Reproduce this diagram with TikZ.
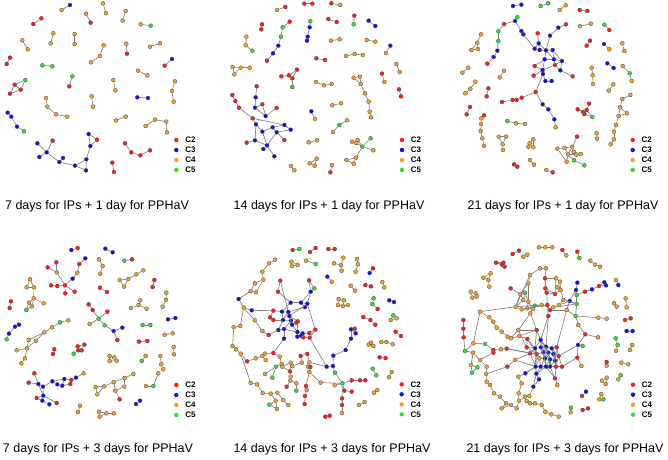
\documentclass[tikz,border=0pt]{standalone}
\usepackage{fontspec}
\setmainfont{Liberation Sans}
\usepackage{xcolor}
\definecolor{k2}{HTML}{FF1A1A}
\definecolor{k3}{HTML}{1010E0}
\definecolor{k4}{HTML}{F0A02A}
\definecolor{k5}{HTML}{2EE02E}
\usetikzlibrary{positioning}

\tikzset{
  vtx/.style={circle, draw=black!70, line width=0.3pt, inner sep=0pt, minimum size=4pt},
  link/.style={draw=black!50, line width=0.65pt},
  keydot/.style={circle, inner sep=0pt, minimum size=4.4pt},
  keytext/.style={font=\bfseries\fontsize{8}{9}\selectfont},
  caption/.style={font=\fontsize{12.5}{15}\selectfont, anchor=base},
  panel/.style={x=0.3333pt, y=-0.3333pt}
}

% n/x/y/class, coordinates in thirds of a pixel of the panel
\newcommand{\netnodes}[1]{\foreach \n/\x/\y/\c in {#1} {\node[vtx, fill=k\c] (\n) at (\x,\y) {};}}
\newcommand{\netlinks}[1]{\foreach \u/\v in {#1} {\draw[link] (\u) -- (\v);}}
\newcommand{\netkey}[2]{\foreach \k [count=\i from 0] in {2,3,4,5} {%
  \node[keydot, fill=k\k] (key\k) at (#1,{#2+30*\i}) {};
  \node[keytext, right=3pt of key\k] (keylabel\k) {C\k};}}

\begin{document}
\begin{tikzpicture}[x=1pt, y=-1pt]
\useasboundingbox (0,0) rectangle (668,459);

% 7 days + 1 day
\begin{scope}[panel, name prefix=a-]
\netnodes{1/185/30/4, 2/210/15/3, 3/100/72/2, 4/124/55/2, 5/258/41/4, 6/272/68/2, 7/309/10/4, 8/318/39/4,
  9/377/33/4, 10/368/62/4, 11/422/73/4, 12/452/77/5, 13/160/100/4, 14/152/130/4, 15/224/102/4, 16/224/132/4,
  17/67/121/4, 18/83/148/4, 19/311/136/4, 20/300/168/4, 21/273/187/4, 22/379/131/4, 23/381/161/2, 24/450/140/4,
  25/480/130/4, 26/30/173/2, 27/20/192/2, 28/516/177/3, 29/494/197/2, 30/127/196/5, 31/157/199/5, 32/414/212/4,
  33/442/226/4, 34/217/229/5, 35/208/259/2, 36/44/254/2, 37/76/240/5, 38/62/269/2, 39/30/281/2, 40/340/240/4,
  41/346/271/4, 42/525/244/4, 43/516/273/4, 44/521/305/4, 45/275/289/4, 46/279/320/4, 47/412/292/3, 48/444/294/3,
  49/138/294/4, 50/142/320/4, 51/168/343/4, 52/202/350/4, 53/23/338/3, 54/34/350/3, 55/51/380/3, 56/72/394/5,
  57/348/361/4, 58/377/350/4, 59/437/378/4, 60/465/359/4, 61/499/365/4, 62/501/397/4, 63/266/402/3, 64/291/419/2,
  65/271/438/3, 66/259/478/3, 67/258/511/3, 68/225/497/3, 69/178/486/3, 70/189/474/3, 71/140/457/3, 72/112/430/3,
  73/158/422/2, 74/118/471/3, 75/375/430/2, 76/394/457/2, 77/421/466/2, 78/450/451/2, 79/337/488/2, 80/342/516/2}
\netlinks{1/2, 3/4, 5/6, 7/8, 9/10, 11/12, 13/14, 15/16, 17/18, 19/20, 20/21, 22/23, 24/25, 26/27, 28/29, 30/31,
  32/33, 34/35, 36/37, 36/38, 37/38, 36/39, 38/39, 40/41, 42/43, 43/44, 45/46, 47/48, 49/50, 50/51, 51/52, 53/54,
  54/55, 55/56, 57/58, 59/60, 60/61, 61/62, 63/64, 63/65, 64/65, 65/66, 66/67, 66/68, 68/67, 68/69, 69/70, 69/71,
  71/72, 71/73, 71/74, 75/76, 76/77, 77/78, 79/80}
\netkey{529}{420}
\end{scope}

% 14 days + 1 day
\begin{scope}[shift={(222pt,0pt)}, panel, name prefix=b-]
\netnodes{1/165/30/4, 2/190/21/2, 3/247/11/2, 4/271/11/2, 5/328/10/2, 6/355/15/4, 7/120/73/2, 8/118/88/2,
  9/182/82/5, 10/203/65/2, 11/177/110/5, 12/169/137/3, 13/153/160/3, 14/135/182/2, 15/265/64/5, 16/263/82/3,
  17/257/110/3, 18/255/122/3, 19/319/57/2, 20/344/66/2, 21/397/47/2, 22/395/73/5, 23/440/62/3, 24/460/78/3,
  25/73/110/4, 26/71/136/4, 27/91/152/5, 28/327/122/4, 29/353/118/4, 30/434/120/4, 31/460/125/4, 32/505/137/3,
  33/492/159/4, 34/283/175/2, 35/309/180/2, 36/372/168/4, 37/398/162/4, 38/423/165/4, 39/32/201/4, 40/56/203/4,
  41/83/203/4, 42/37/223/4, 43/523/192/4, 44/533/216/4, 45/178/229/2, 46/201/226/2, 47/225/209/2, 48/211/235/2,
  49/211/261/5, 50/282/246/4, 51/306/256/4, 52/329/252/4, 53/395/233/4, 54/414/230/4, 55/416/252/4, 56/429/280/4,
  57/440/305/4, 58/443/335/4, 59/447/352/4, 60/480/221/2, 61/487/246/4, 62/531/268/2, 63/537/289/2, 64/104/259/2,
  65/101/292/3, 66/31/285/2, 67/40/303/2, 68/51/323/2, 69/99/323/3, 70/121/313/2, 71/92/355/2, 72/131/348/3,
  73/164/324/2, 74/102/373/3, 75/121/395/3, 76/152/382/3, 77/164/397/3, 78/187/375/3, 79/206/389/3, 80/187/420/2,
  81/74/428/2, 82/99/421/3, 83/135/436/3, 84/124/447/3, 85/157/469/3, 86/268/334/3, 87/279/357/4, 88/357/310/4,
  89/331/316/4, 90/375/361/4, 91/352/375/5, 92/333/396/4, 93/260/427/4, 94/285/421/4, 95/390/425/4, 96/407/420/4,
  97/446/415/5, 98/421/440/5, 99/403/429/4, 100/454/451/4, 101/402/473/4, 102/373/480/4, 103/395/491/4,
  104/284/476/4, 105/263/490/4, 106/278/497/4, 107/207/498/4, 108/217/511/4, 109/330/495/4, 110/325/517/2}
\netlinks{1/2, 3/4, 5/6, 7/8, 10/9, 9/11, 11/12, 12/13, 13/14, 15/16, 16/17, 17/18, 19/20, 21/22, 23/24, 25/26,
  26/27, 28/29, 30/31, 32/33, 34/35, 36/37, 37/38, 39/40, 40/41, 39/42, 40/42, 43/44, 45/46, 46/47, 46/48, 47/48,
  48/49, 50/51, 51/52, 53/54, 53/55, 54/55, 55/56, 56/57, 57/58, 58/59, 60/61, 62/63, 64/65, 65/69, 69/70, 69/72,
  70/72, 72/73, 66/67, 67/68, 68/71, 71/78, 71/74, 74/75, 74/82, 75/76, 76/77, 76/78, 77/79, 78/79, 77/80, 82/81,
  82/83, 83/84, 83/85, 75/83, 77/83, 86/87, 88/89, 90/91, 91/92, 93/94, 95/96, 96/98, 99/98, 97/98, 98/100,
  98/101, 101/102, 101/103, 102/103, 104/105, 104/106, 105/106, 107/108, 109/110}
\netkey{540}{420}
\end{scope}

% 21 days + 1 day
\begin{scope}[shift={(444pt,0pt)}, panel, name prefix=c-]
\netnodes{1/207/18/3, 2/232/14/3, 3/290/18/5, 4/312/10/5, 5/347/30/4, 6/365/16/4, 7/407/30/2, 8/430/33/2,
  9/220/52/5, 10/213/63/3, 11/180/72/2, 12/163/94/5, 13/163/123/5, 14/160/152/3, 15/149/171/3, 16/130/191/2,
  17/232/93/3, 18/238/103/3, 19/281/100/2, 20/318/107/3, 21/343/83/3, 22/366/73/2, 23/284/130/3, 24/272/146/3,
  25/287/150/3, 26/306/151/3, 27/326/150/3, 28/302/178/3, 29/330/178/3, 30/354/183/3, 31/272/198/2, 32/296/210/3,
  33/333/195/2, 34/349/211/3, 35/269/227/2, 36/297/222/3, 37/304/243/3, 38/323/243/3, 39/386/229/2, 40/275/276/2,
  41/174/306/2, 42/206/300/2, 43/218/300/2, 44/233/293/2, 45/296/313/3, 46/313/328/3, 47/331/358/3, 48/335/382/4,
  49/111/103/4, 50/100/128/4, 51/82/150/4, 52/102/147/4, 53/73/203/4, 54/55/218/4, 55/180/212/4, 56/167/232/4,
  57/94/245/4, 58/79/266/4, 59/64/280/4, 60/133/265/2, 61/128/289/2, 62/78/321/2, 63/68/343/2, 64/120/346/2,
  65/112/355/4, 66/111/372/4, 67/110/393/4, 68/115/415/4, 69/120/438/4, 70/190/363/5, 71/216/370/4, 72/243/372/4,
  73/164/410/4, 74/186/410/4, 75/176/433/4, 76/177/450/4, 77/257/430/4, 78/268/418/4, 79/253/440/4, 80/268/442/4,
  81/210/493/2, 82/220/500/2, 83/258/480/4, 84/270/494/4, 85/307/510/4, 86/326/517/2, 87/408/79/4, 88/440/71/4,
  89/438/122/2, 90/428/137/2, 91/481/74/5, 92/496/90/2, 93/480/132/3, 94/496/148/4, 95/535/130/4, 96/541/153/4,
  97/490/190/3, 98/509/204/3, 99/443/203/4, 100/446/226/4, 101/447/252/4, 102/536/198/4, 103/557/220/5,
  104/563/243/4, 105/508/253/4, 106/494/272/4, 107/559/285/4, 108/535/297/4, 109/528/322/4, 110/549/340/4,
  111/524/348/4, 112/516/375/4, 113/510/395/4, 114/510/418/4, 115/500/433/4, 116/458/400/4, 117/459/416/4,
  118/435/311/2, 119/401/328/2, 120/417/336/2, 121/428/330/2, 122/421/342/2, 123/445/351/5, 124/399/410/2,
  125/385/440/4, 126/362/444/4, 127/340/446/4, 128/372/463/4, 129/397/464/4, 130/410/462/4, 131/368/485/4,
  132/390/481/5, 133/421/496/5, 134/389/456/4}
\netlinks{1/2, 3/4, 5/6, 7/8, 9/10, 10/11, 11/12, 12/13, 13/14, 14/15, 15/16, 10/17, 17/18, 18/24, 19/23, 20/21,
  21/22, 20/26, 23/24, 23/25, 24/25, 25/26, 26/27, 26/28, 27/29, 27/30, 28/29, 29/30, 28/31, 28/32, 29/33, 30/34,
  33/34, 31/32, 32/35, 32/36, 36/37, 37/38, 34/39, 32/33, 26/29, 30/33, 23/26, 36/40, 40/44, 41/42, 42/43, 43/44,
  40/45, 45/46, 46/47, 47/48, 49/50, 50/51, 50/52, 51/52, 53/54, 55/56, 57/58, 58/59, 60/61, 62/63, 64/65, 65/66,
  66/67, 67/68, 68/69, 70/71, 71/72, 73/74, 73/75, 74/75, 75/76, 77/78, 77/79, 78/80, 79/80, 77/80, 81/82, 83/84,
  85/86, 87/88, 89/90, 91/92, 93/94, 95/96, 97/98, 99/100, 100/101, 102/103, 103/104, 105/106, 107/108, 108/109,
  109/110, 109/111, 110/111, 111/112, 112/113, 113/114, 114/115, 116/117, 118/121, 119/120, 120/121, 121/122,
  122/120, 121/123, 122/123, 124/125, 125/126, 126/127, 125/128, 128/129, 129/130, 128/131, 126/128, 125/134,
  134/130, 128/132, 132/133, 127/131}
\netkey{566}{420}
\end{scope}

% 7 days + 3 days
\begin{scope}[shift={(0pt,-230pt)}, panel, name prefix=d-]
\netnodes{1/214/60/3, 2/233/54/2, 3/316/56/3, 4/338/67/3, 5/373/92/5, 6/396/88/2, 7/169/97/2, 8/143/112/2,
  9/170/127/4, 10/238/102/2, 11/256/85/3, 12/232/128/4, 13/218/146/3, 14/195/166/2, 15/153/166/2, 16/172/168/2,
  17/196/190/2, 18/224/185/2, 19/297/88/4, 20/308/108/4, 21/301/131/4, 22/430/121/4, 23/409/133/4, 24/385/147/4,
  25/359/150/4, 26/372/170/4, 27/463/150/2, 28/458/171/2, 29/300/173/2, 30/321/186/2, 31/90/148/4, 32/80/172/4,
  33/102/172/4, 34/101/205/4, 35/87/218/4, 36/96/229/4, 37/131/220/4, 38/79/240/5, 39/33/214/2, 40/29/234/2,
  41/499/188/4, 42/498/209/4, 43/488/230/4, 44/266/223/2, 45/278/240/2, 46/322/245/2, 47/296/266/5, 48/269/282/4,
  49/314/286/5, 50/341/303/3, 51/367/293/3, 52/352/330/2, 53/393/234/4, 54/421/211/4, 55/416/225/4, 56/440/236/4,
  57/504/268/3, 58/526/264/3, 59/57/284/3, 60/45/290/3, 61/27/311/3, 62/20/328/5, 63/205/271/4, 64/180/277/5,
  65/156/292/4, 66/133/307/4, 67/108/332/4, 68/86/330/4, 69/81/355/4, 70/50/361/4, 71/75/385/4, 72/64/400/4,
  73/428/285/5, 74/451/285/5, 75/494/314/4, 76/518/310/4, 77/417/335/2, 78/442/333/2, 79/163/358/2, 80/159/372/2,
  81/233/349/2, 82/253/344/2, 83/235/361/2, 84/245/361/2, 85/221/371/5, 86/521/351/4, 87/522/373/4, 88/329/378/4,
  89/343/382/4, 90/329/393/4, 91/350/392/4, 92/437/378/4, 93/425/393/5, 94/481/378/4, 95/484/403/4, 96/490/418/4,
  97/103/430/2, 98/86/458/2, 99/115/462/3, 100/129/470/3, 101/157/454/3, 102/172/463/3, 103/187/467/3,
  104/193/447/3, 105/211/462/2, 106/214/450/2, 107/228/443/3, 108/251/430/4, 109/130/497/3, 110/110/504/2,
  111/127/512/3, 112/148/523/3, 113/170/519/2, 114/400/432/4, 115/374/444/4, 116/341/456/4, 117/313/469/4,
  118/287/471/4, 119/292/493/4, 120/346/482/4, 121/373/470/4, 122/359/508/2, 123/475/430/4, 124/460/468/5,
  125/438/468/4, 126/420/512/3, 127/408/522/3, 128/240/527/4, 129/234/546/4, 130/297/545/4, 131/319/550/4,
  132/342/550/4, 133/299/560/4}
\netlinks{1/2, 3/4, 5/6, 7/9, 8/9, 9/14, 11/10, 10/12, 12/13, 13/14, 15/16, 16/14, 14/17, 14/18, 19/20, 20/21,
  22/23, 23/24, 24/25, 24/26, 25/26, 27/28, 29/30, 31/32, 31/33, 32/33, 33/34, 34/35, 34/36, 35/36, 34/37, 35/38,
  36/38, 39/40, 41/42, 42/43, 44/45, 45/47, 46/47, 47/48, 47/49, 49/50, 50/51, 50/52, 54/55, 55/53, 55/56, 57/58,
  59/60, 60/61, 61/62, 63/64, 64/65, 65/66, 66/67, 66/68, 68/69, 67/69, 69/70, 69/71, 71/72, 73/74, 75/76, 77/78,
  79/80, 81/82, 81/83, 82/84, 83/84, 83/85, 86/87, 88/89, 88/90, 89/91, 90/91, 92/93, 94/95, 95/96, 97/99, 98/99,
  99/100, 100/101, 101/102, 102/103, 101/104, 103/104, 104/106, 103/105, 105/106, 106/107, 107/108, 100/109,
  109/110, 109/111, 110/111, 111/112, 109/113, 99/109, 114/115, 115/116, 116/117, 117/118, 117/119, 118/119,
  116/120, 115/121, 120/122, 121/120, 124/125, 123/124, 126/127, 128/129, 130/131, 131/132, 130/133, 131/133}
\netkey{529}{465}
\end{scope}

% 14 days + 3 days
\begin{scope}[shift={(220pt,-230pt)}, panel, name prefix=e-]
\netnodes{1/218/60/2, 2/238/57/5, 3/270/66/2, 4/287/54/2, 5/325/57/2, 6/344/57/2, 7/147/100/4, 8/165/89/4,
  9/214/95/4, 10/216/108/4, 11/233/105/4, 12/258/92/4, 13/287/102/5, 14/342/100/4, 15/363/105/4, 16/370/83/4,
  17/365/122/4, 18/411/87/4, 19/414/103/4, 20/407/125/4, 21/459/115/2, 22/449/129/3, 23/127/125/4, 24/130/149/4,
  25/105/160/4, 26/92/183/4, 27/108/187/4, 28/181/152/2, 29/174/185/2, 30/267/151/2, 31/283/175/5, 32/272/185/3,
  33/322/140/3, 34/335/155/4, 35/392/167/4, 36/405/182/4, 37/436/165/2, 38/453/169/2, 39/487/156/4, 40/493/172/4,
  41/56/207/3, 42/71/233/4, 43/95/241/3, 44/356/207/4, 45/372/211/4, 46/354/225/4, 47/369/228/4, 48/384/225/4,
  49/461/205/5, 50/457/222/5, 51/473/237/2, 52/508/211/3, 53/522/216/3, 54/520/256/5, 55/530/265/4, 56/512/270/4,
  57/430/261/2, 58/451/270/2, 59/466/284/2, 60/212/218/3, 61/243/218/3, 62/255/231/3, 63/262/221/3, 64/160/242/2,
  65/186/245/3, 66/205/246/3, 67/208/258/3, 68/160/270/2, 69/150/262/2, 70/189/270/3, 71/213/272/3, 72/233/274/2,
  73/216/284/3, 74/229/278/2, 75/175/300/3, 76/192/297/3, 77/232/306/3, 78/248/310/3, 79/268/309/2, 80/286/299/2,
  81/232/320/3, 82/243/317/3, 83/250/322/2, 84/269/323/2, 85/192/326/3, 86/146/315/2, 87/127/303/4, 88/41/292/4,
  89/61/288/4, 90/38/348/4, 91/48/358/4, 92/62/371/4, 93/81/394/2, 94/107/385/4, 95/104/271/4, 96/127/378/4,
  97/134/371/4, 98/137/390/4, 99/160/369/2, 100/179/380/4, 101/185/402/4, 102/187/410/4, 103/212/398/4,
  104/217/408/4, 105/246/398/4, 106/242/378/2, 107/262/372/2, 108/268/397/4, 109/264/410/4, 110/168/410/5,
  111/157/443/5, 112/135/432/4, 113/210/424/2, 114/212/440/4, 115/211/452/4, 116/200/470/2, 117/229/482/5,
  118/229/460/4, 119/92/459/4, 120/111/463/4, 121/128/489/4, 122/152/491/4, 123/172/488/4, 124/190/510/4,
  125/205/525/4, 126/167/512/4, 127/148/524/5, 128/171/537/4, 129/258/468/2, 130/260/480/4, 131/255/498/2,
  132/254/522/2, 133/271/411/2, 134/268/426/4, 135/302/458/4, 136/344/466/4, 137/367/460/5, 138/395/451/2,
  139/420/451/2, 140/436/451/2, 141/373/482/2, 142/395/485/2, 143/366/505/2, 144/366/525/2, 145/366/549/4,
  146/320/410/3, 147/339/408/3, 148/345/428/5, 149/340/377/3, 150/377/360/3, 151/393/326/3, 152/393/298/3,
  153/407/310/3, 154/404/296/2, 155/446/344/4, 156/460/348/4, 157/453/338/4, 158/484/336/4, 159/499/336/4,
  160/518/343/4, 161/479/382/2, 162/497/384/2, 163/458/416/5, 164/469/436/5, 165/515/426/4, 166/507/442/4,
  167/462/488/4, 168/472/480/4, 169/434/516/4, 170/417/525/4, 171/316/560/2, 172/329/557/2, 173/527/305/2,
  174/543/318/2}
\netlinks{1/2, 3/4, 5/6, 7/8, 9/10, 9/11, 10/11, 12/13, 14/15, 15/16, 15/17, 18/19, 19/20, 21/22, 7/23, 23/24,
  24/25, 24/27, 25/26, 26/27, 28/29, 30/31, 31/32, 33/34, 35/36, 37/38, 39/40, 44/45, 44/46, 45/47, 46/47, 47/48,
  49/50, 50/51, 52/53, 54/55, 54/56, 55/56, 57/58, 58/59, 26/41, 41/42, 42/43, 42/89, 89/88, 88/90, 90/91, 91/92,
  92/93, 93/94, 94/96, 96/97, 96/98, 92/119, 119/120, 120/121, 121/122, 122/123, 123/124, 124/125, 122/126,
  126/127, 126/128, 127/128, 43/64, 42/95, 95/87, 87/86, 86/75, 29/60, 28/66, 60/61, 61/62, 61/63, 62/63, 32/61,
  32/63, 30/32, 64/65, 65/66, 66/67, 65/70, 67/71, 67/72, 70/71, 71/73, 72/74, 73/74, 69/68, 68/70, 64/69, 70/75,
  75/76, 73/77, 77/78, 78/79, 79/80, 77/81, 81/82, 82/83, 83/84, 76/85, 85/99, 99/97, 99/100, 100/101, 101/102,
  102/103, 103/104, 104/105, 105/106, 106/107, 107/108, 108/109, 109/133, 133/134, 101/110, 110/111, 110/112,
  102/113, 113/114, 114/115, 115/116, 115/118, 118/117, 113/103, 129/130, 130/131, 131/132, 134/129, 108/146,
  146/147, 147/148, 147/149, 149/150, 150/151, 151/152, 152/153, 153/154, 152/154, 148/137, 134/135, 135/137,
  136/137, 137/138, 138/139, 139/140, 137/141, 141/142, 137/143, 143/144, 144/145, 84/146, 80/63, 155/156,
  155/157, 156/157, 158/159, 159/160, 161/162, 163/164, 165/166, 167/168, 169/170, 171/172, 173/174,
  60/65, 62/66, 63/67, 66/70, 72/77, 76/77, 79/84, 80/84, 71/76, 67/73}
\netkey{545}{463}
\end{scope}

% 21 days + 3 days
\begin{scope}[shift={(440pt,-230pt)}, panel, name prefix=f-]
\netnodes{1/297/52/4, 2/316/52/4, 3/337/52/4, 4/218/72/2, 5/237/62/2, 6/250/80/4, 7/262/74/4, 8/367/60/2,
  9/379/76/4, 10/412/65/2, 11/418/84/5, 12/451/92/4, 13/465/104/4, 14/480/110/4, 15/168/98/2, 16/186/104/2,
  17/194/110/2, 18/190/98/2, 19/152/130/4, 20/130/143/4, 21/145/150/4, 22/148/170/4, 23/92/185/4, 24/107/190/4,
  25/97/203/4, 26/110/200/4, 27/528/150/4, 28/535/165/3, 29/522/220/4, 30/530/230/4, 31/557/205/4, 32/560/232/4,
  33/555/270/2, 34/572/265/2, 35/560/303/3, 36/578/303/3, 37/527/325/5, 38/533/345/5, 39/528/362/4, 40/577/345/4,
  41/570/360/4, 42/544/398/4, 43/565/403/4, 44/500/396/2, 45/500/407/4, 46/542/436/5, 47/535/448/4, 48/500/443/4,
  49/486/452/4, 50/497/462/4, 51/484/492/4, 52/478/508/4, 53/490/508/5, 55/438/485/3, 56/426/498/2, 57/393/533/5,
  58/392/547/4, 59/428/540/2, 60/444/535/2, 61/70/270/2, 62/70/296/2, 63/71/322/2, 64/75/363/5, 65/99/368/4,
  66/93/405/4, 67/112/412/5, 68/96/428/5, 69/120/390/4, 70/300/115/4, 71/318/115/4, 72/270/135/4, 73/265/160/4,
  74/315/145/2, 75/348/145/4, 76/360/155/4, 77/353/172/4, 78/212/175/2, 79/241/192/4, 80/255/188/5, 81/250/210/4,
  82/265/215/4, 83/316/175/2, 84/320/188/2, 85/345/192/2, 86/362/180/4, 87/370/210/4, 88/227/230/4, 89/245/238/4,
  90/262/235/4, 91/278/237/4, 92/284/227/5, 93/271/250/4, 94/322/225/2, 95/330/240/2, 96/340/232/4, 97/357/225/4,
  98/325/258/2, 99/305/225/4, 100/389/213/3, 101/408/180/3, 102/412/158/3, 103/410/195/5, 104/410/222/5,
  105/435/185/2, 106/456/178/3, 107/477/168/2, 108/493/157/3, 109/498/166/3, 110/407/258/5, 111/380/240/4,
  112/475/263/4, 113/500/266/4, 114/415/285/4, 115/436/313/2, 116/474/322/4, 117/414/345/3, 118/428/348/5,
  119/412/383/2, 120/424/408/4, 130/285/355/3, 131/303/352/3, 132/318/350/3, 133/335/355/3, 134/350/352/2,
  135/290/372/2, 136/310/367/3, 137/325/368/3, 138/340/372/3, 139/356/378/2, 140/298/385/4, 141/315/385/3,
  142/330/388/3, 143/345/392/3, 144/287/410/3, 145/302/410/3, 146/318/410/3, 147/330/410/3, 148/348/410/2,
  149/366/410/2, 150/270/370/2, 151/260/352/2, 152/302/330/3, 153/290/300/2, 154/256/430/3, 155/289/431/3,
  156/297/448/3, 157/345/445/2, 158/352/465/4, 159/280/470/3, 160/268/498/4, 161/160/360/2, 162/160/368/2,
  163/135/342/5, 164/183/358/4, 165/200/356/2, 166/213/325/4, 167/238/318/4, 168/120/245/4, 169/148/262/4,
  170/160/275/4, 171/170/293/4, 172/185/305/4, 173/203/320/4, 174/235/300/4, 175/262/327/2, 176/100/340/4,
  180/140/410/4, 181/138/432/4, 182/140/455/4, 183/150/465/4, 185/202/410/2, 186/225/390/4, 187/235/440/4,
  188/245/460/4, 189/162/490/4, 190/180/500/4, 191/198/520/4, 192/185/535/4, 193/213/525/4, 194/230/535/4,
  195/237/512/4, 196/255/500/4, 197/270/520/4, 198/285/520/4, 199/305/525/4, 200/316/545/4, 201/334/553/4,
  202/356/560/4, 203/236/490/4, 204/260/513/4}
\netlinks{1/2, 2/3, 4/5, 6/7, 8/9, 10/11, 12/13, 13/14, 15/18, 15/16, 16/17, 17/18, 19/20, 19/21, 20/21, 21/22,
  23/24, 23/25, 24/26, 25/26, 27/28, 29/30, 31/32, 33/34, 35/36, 37/38, 38/39, 40/41, 42/43, 44/45, 46/47, 48/49,
  48/50, 49/50, 51/52, 51/53, 52/53, 55/56, 57/58, 59/60, 61/62, 62/63, 63/64, 168/169, 169/170, 170/171, 171/172,
  172/173, 173/166, 166/167, 167/175, 175/130, 168/176, 176/64, 64/65, 65/66, 66/67, 66/68, 67/68, 69/65, 69/180,
  180/181, 181/182, 182/183, 183/189, 189/190, 190/191, 191/192, 191/193, 193/194, 194/195, 195/203, 195/196,
  196/204, 204/197, 197/198, 198/199, 199/200, 200/201, 201/202, 192/193, 203/188, 188/187, 187/154, 154/144,
  186/185, 185/181, 186/150, 165/164, 164/161, 161/162, 161/163, 162/69, 165/150, 163/176, 70/71, 70/72, 71/74,
  72/73, 74/75, 75/76, 76/77, 74/83, 83/84, 84/85, 85/86, 77/86, 86/87, 78/79, 79/80, 80/81, 81/82, 79/88, 88/89,
  89/90, 90/91, 91/92, 91/93, 82/90, 92/99, 99/94, 94/95, 95/96, 96/97, 97/87, 94/98, 84/94, 87/100, 100/101,
  101/102, 101/103, 103/104, 100/104, 103/105, 105/106, 106/107, 107/108, 108/109, 107/109, 104/110, 110/111,
  110/112, 112/113, 100/111, 110/114, 114/115, 115/116, 115/117, 117/118, 117/119, 119/120, 98/152, 93/153,
  153/152, 153/174, 72/88, 73/82, 168/88, 130/131, 131/132, 132/133, 133/134, 130/135, 131/136, 132/137, 133/138,
  134/139, 135/136, 136/137, 137/138, 138/139, 135/140, 136/141, 137/142, 138/143, 140/141, 141/142, 142/143,
  140/144, 141/145, 142/146, 143/147, 143/148, 148/149, 144/145, 145/146, 146/147, 147/148, 136/142, 137/141,
  131/137, 132/136, 152/131, 152/132, 150/130, 151/130, 151/175, 144/154, 145/155, 155/156, 146/157, 157/158,
  148/157, 155/159, 159/160, 139/117, 134/111, 149/119, 150/135, 98/132, 139/149, 156/159, 174/151, 186/144,
  88/99, 89/94, 90/99, 81/88, 82/91, 79/81, 80/82, 74/84, 73/79, 75/85, 76/86, 83/85, 97/100, 96/104, 95/111,
  87/104, 130/140, 130/144, 131/141, 132/142, 133/143, 134/143, 135/144, 139/148, 136/146, 137/147, 138/148,
  140/145, 141/146, 142/147, 150/144, 151/135, 153/130, 152/136, 152/137, 175/135, 144/155, 146/155, 147/157,
  133/139, 131/133, 130/152, 165/135, 166/174, 174/93, 167/153}
\netkey{579}{464}
\end{scope}

% panel titles
\node[caption] (cap1) at (97,209) {7 days for IPs + 1 day for PPHaV};
\node[caption] (cap2) at (329,209) {14 days for IPs + 1 day for PPHaV};
\node[caption] (cap3) at (563,209) {21 days for IPs + 1 day for PPHaV};
\node[caption] (cap4) at (98,452) {7 days for IPs + 3 days for PPHaV};
\node[caption] (cap5) at (332,452) {14 days for IPs + 3 days for PPHaV};
\node[caption] (cap6) at (565,452) {21 days for IPs + 3 days for PPHaV};
\end{tikzpicture}
\end{document}
